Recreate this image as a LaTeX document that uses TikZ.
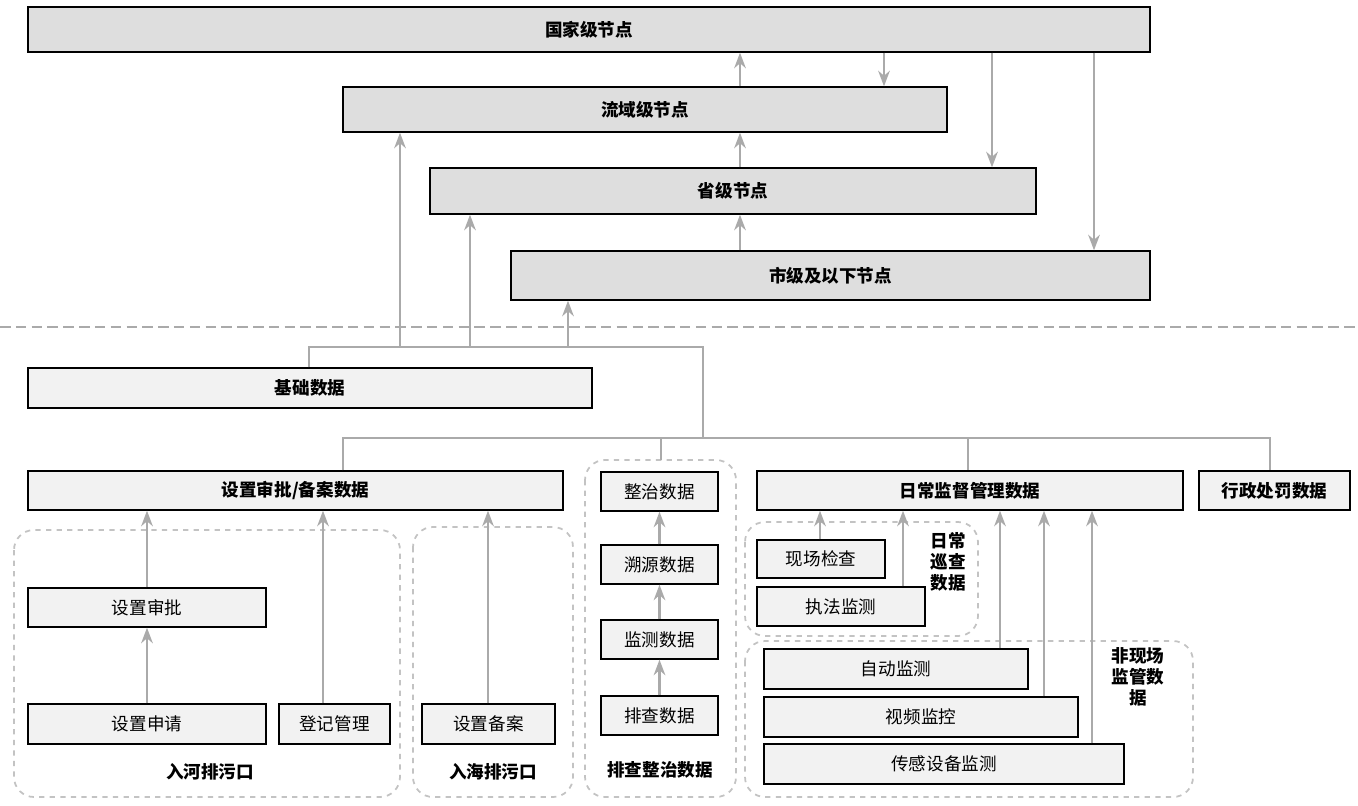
\documentclass[tikz,border=0pt]{standalone}
\usepackage{fontspec}
\setmainfont{Noto Sans CJK SC}
\usetikzlibrary{arrows.meta}
\definecolor{linegray}{RGB}{170,170,170}
\definecolor{darkfill}{RGB}{222,222,222}
\definecolor{lightfill}{RGB}{242,242,242}
\tikzset{>=Stealth}
\tikzset{%
    box/.style={draw=black, thick, fill=lightfill, inner sep=0pt, font=\fontsize{10}{12}\selectfont},
    topbox/.style={box, fill=darkfill, font=\fontsize{10}{12}\selectfont\bfseries},
    head/.style={box, font=\fontsize{10}{12}\selectfont\bfseries},
    arr/.style={->, draw=linegray, line width=1.3pt},
    bus/.style={draw=linegray, line width=1.3pt},
    group/.style={draw=linegray!70, dashed, line width=1pt, rounded corners=0.4cm},
    tag/.style={font=\fontsize{10}{12}\selectfont\bfseries, align=center, inner sep=0pt}
}

\begin{document}
\begin{tikzpicture}[x=0.02cm, y=-0.02cm]
\useasboundingbox (0,0) rectangle (1358,805);
% groups
\draw[group] (14,530) rectangle (400,797);
\draw[group] (413,527) rectangle (573,797);
\draw[group] (585,460) rectangle (736,797);
\draw[group] (745,522) rectangle (978,636);
\draw[group] (745,641) rectangle (1193,797);
\node[tag] (hehe) at (210,772) {入河排污口};
\node[tag] (haihe) at (493,772) {入海排污口};
\node[tag] (paicha) at (660,770) {排查整治数据};
\node[tag] (xuncha) at (948,562) {日常\\巡查\\数据};
\node[tag] (feixian) at (1138,677) {非现场\\监管数\\据};
% node levels
\node[topbox, minimum width=22.44cm, minimum height=0.9cm] (guo) at (589,29.5) {国家级节点};
\node[topbox, minimum width=12.08cm, minimum height=0.9cm] (liu) at (645,109.5) {流域级节点};
\node[topbox, minimum width=12.12cm, minimum height=0.92cm] (sheng) at (733,191) {省级节点};
\node[topbox, minimum width=12.78cm, minimum height=0.98cm] (shi) at (830.5,275.5) {市级及以下节点};
\draw[linegray, dashed, line width=1.6pt, dash pattern=on 6pt off 3pt] (0,327) -- (1358,327);
% data
\node[head, minimum width=11.28cm, minimum height=0.8cm] (jichu) at (310,388) {基础数据};
\node[head, minimum width=10.7cm, minimum height=0.78cm] (shenpi) at (295.5,490.5) {设置审批/备案数据};
\node[head, minimum width=8.52cm, minimum height=0.78cm] (richang) at (970,490.5) {日常监督管理数据};
\node[head, minimum width=3.02cm, minimum height=0.78cm] (xingzheng) at (1274.5,490.5) {行政处罚数据};
\node[box, minimum width=2.34cm, minimum height=0.78cm] (zhengzhi) at (659.5,491.5) {整治数据};
\node[box, minimum width=2.34cm, minimum height=0.78cm] (suyuan) at (659.5,564.5) {溯源数据};
\node[box, minimum width=2.34cm, minimum height=0.78cm] (jiance) at (659.5,639.5) {监测数据};
\node[box, minimum width=2.34cm, minimum height=0.78cm] (paichad) at (659.5,715.5) {排查数据};
\node[box, minimum width=4.76cm, minimum height=0.78cm] (szsp) at (147,607.5) {设置审批};
\node[box, minimum width=4.76cm, minimum height=0.8cm] (szsq) at (147,724) {设置申请};
\node[box, minimum width=2.22cm, minimum height=0.8cm] (djgl) at (334.5,724) {登记管理};
\node[box, minimum width=2.66cm, minimum height=0.8cm] (szba) at (488.5,724) {设置备案};
\node[box, minimum width=2.56cm, minimum height=0.76cm] (xcjc) at (821,559) {现场检查};
\node[box, minimum width=3.36cm, minimum height=0.78cm] (zfjc) at (841,606.5) {执法监测};
\node[box, minimum width=5.28cm, minimum height=0.8cm] (zdjc) at (896,669) {自动监测};
\node[box, minimum width=6.28cm, minimum height=0.8cm] (spjk) at (921,717) {视频监控};
\node[box, minimum width=7.2cm, minimum height=0.8cm] (cgsb) at (944,764) {传感设备监测};
% columns
\foreach \c in {309,343,400,470,568,661,703,740,820,884,903,968,992,1000,1044,1092,1094,1270,148,323,488,659}
    \coordinate (c\c) at (\c,0);
\coordinate (busa) at (703,347);
\coordinate (busb) at (703,438);
% links between levels
\draw[arr] (liu.north -| c740) -- (guo.south -| c740);
\draw[arr] (guo.south -| c884) -- (liu.north -| c884);
\draw[arr] (guo.south -| c992) -- (sheng.north -| c992);
\draw[arr] (guo.south -| c1094) -- (shi.north -| c1094);
\draw[arr] (sheng.north -| c740) -- (liu.south -| c740);
\draw[arr] (shi.north -| c740) -- (sheng.south -| c740);
% data bus
\draw[bus] (jichu.north -| c309) |- (busa) -- (busb);
\draw[arr] (busa -| c400) -- (liu.south -| c400);
\draw[arr] (busa -| c470) -- (sheng.south -| c470);
\draw[arr] (busa -| c568) -- (shi.south -| c568);
\draw[bus] (shenpi.north -| c343) |- (busb) -| (xingzheng.north -| c1270);
\draw[bus] (busb -| c661) -- (661,460);
\draw[bus] (busb -| c968) -- (richang.north -| c968);
% inner arrows
\draw[arr] (szsp.north) -- (shenpi.south -| szsp.north);
\draw[arr] (szsq.north) -- (szsp.south);
\draw[arr] (djgl.north -| c323) -- (shenpi.south -| c323);
\draw[arr] (szba.north -| c488) -- (shenpi.south -| c488);
\draw[arr] (suyuan.north) -- (zhengzhi.south);
\draw[arr] (jiance.north) -- (suyuan.south);
\draw[arr] (paichad.north) -- (jiance.south);
\draw[arr] (xcjc.north -| c820) -- (richang.south -| c820);
\draw[arr] (zfjc.north -| c903) -- (richang.south -| c903);
\draw[arr] (zdjc.north -| c1000) -- (richang.south -| c1000);
\draw[arr] (spjk.north -| c1044) -- (richang.south -| c1044);
\draw[arr] (cgsb.north -| c1092) -- (richang.south -| c1092);
\end{tikzpicture}
\end{document}
